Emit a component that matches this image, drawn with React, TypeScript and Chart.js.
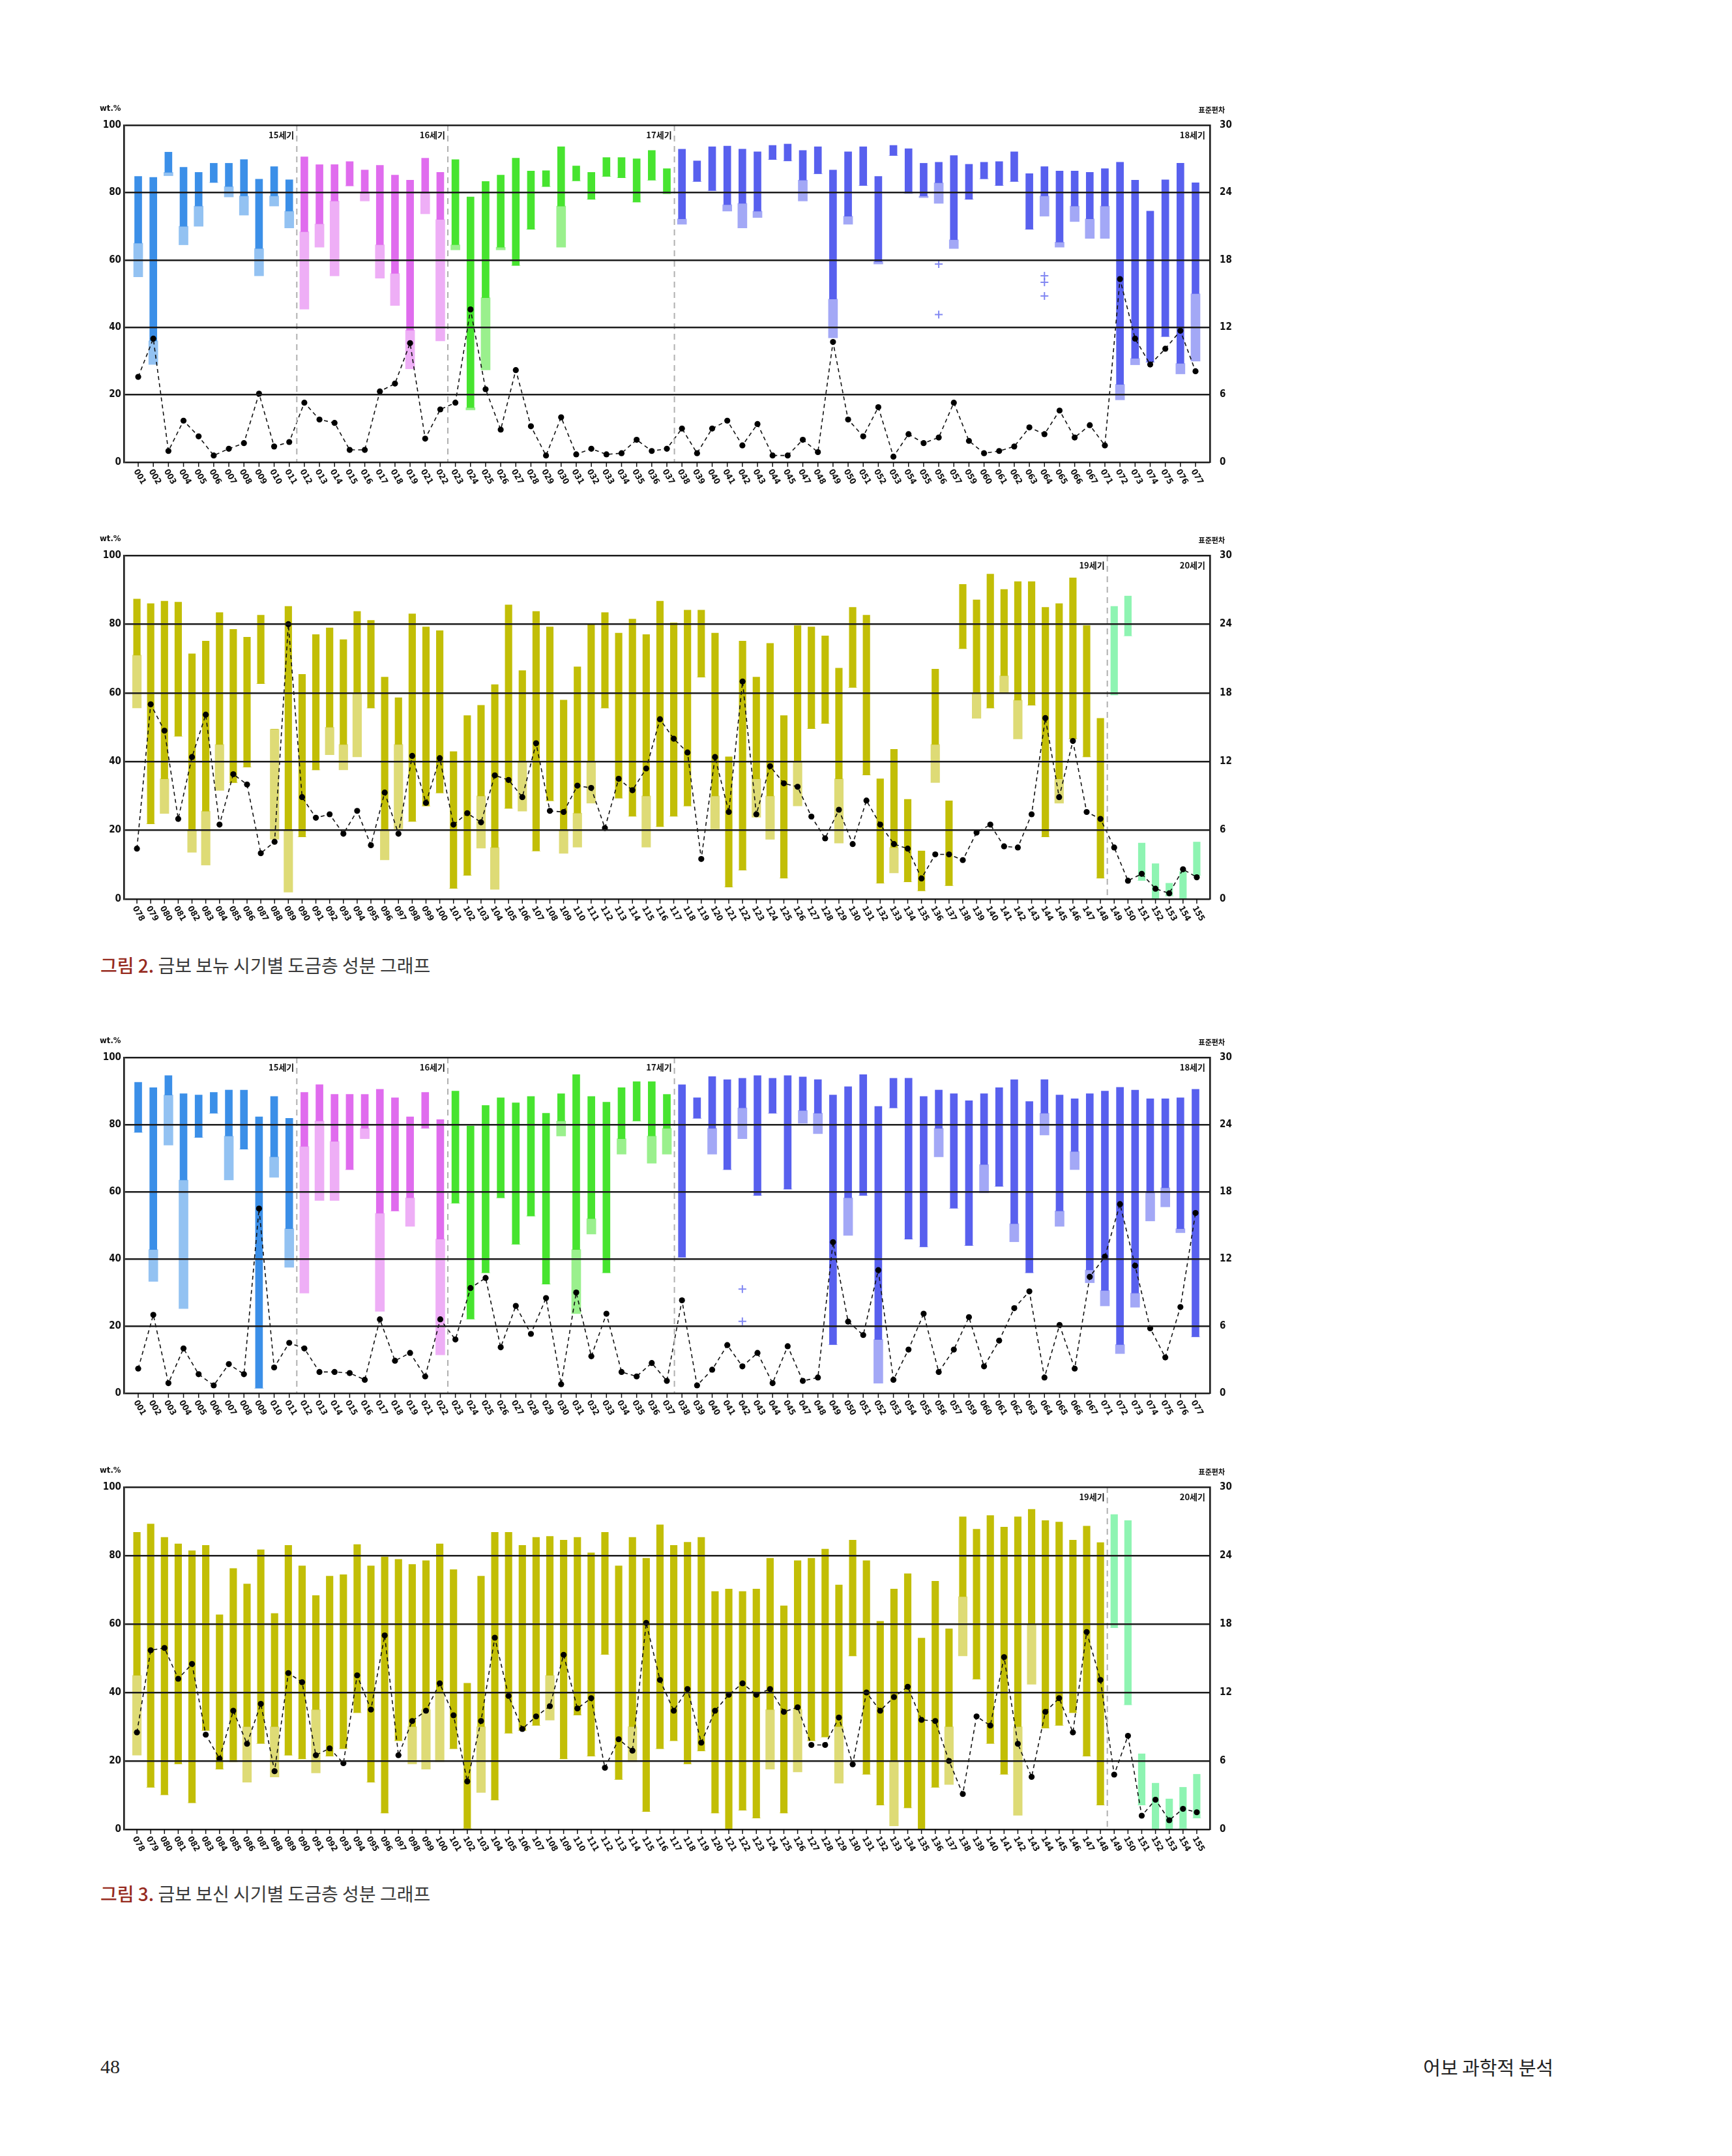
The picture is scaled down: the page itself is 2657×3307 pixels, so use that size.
import React, { useEffect, useRef } from 'react';
import { Chart, registerables } from 'chart.js';

Chart.register(...registerables);

const FONT = '"Liberation Sans Narrow", "DejaVu Sans Condensed", "Liberation Sans", "Noto Sans CJK KR", sans-serif';
const KFONT = '"Noto Sans CJK KR", "Noto Sans", sans-serif';

// ---------- tick labels ----------
const labelsA = ['001','002','003','004','005','006','007','008','009','010','011','012','013','014','015','016','017','018','019','021','022','023','024','025','026','027','028','029','030','031','032','033','034','035','036','037','038','039','040','041','042','043','044','045','047','048','049','050','051','052','053','054','055','056','057','059','060','061','062','063','064','065','066','067','071','072','073','074','075','076','077'];
const labelsB = ['078','079','080','081','082','083','084','085','086','087','088','089','090','091','092','093','094','095','096','097','098','099','100','101','102','103','104','105','106','107','108','109','110','111','112','113','114','115','116','117','118','119','120','121','122','123','124','125','126','127','128','129','130','131','132','133','134','135','136','137','138','139','140','141','142','143','144','145','146','147','148','149','150','151','152','153','154','155'];

// ---------- 그림 2 (상) : 001-077 ----------
const hi1 = [84.8,84.5,92,87.5,86,88.7,88.7,89.8,84,87.7,83.8, 90.6,88.3,88.3,89.2,86.7,88.1,85.2,83.7,90.2,86, 89.8,78.7,83.3,85.2,90.2,86.4,86.5,93.6,87.9,86,90.4,90.4,90,92.5,87.1, 92.9,89.4,93.6,93.8,92.9,92.1,94,94.4,92.5,93.6,86.7,92.1,93.6,84.8,94,93,88.7,89,91,88.4,89,89.2,92.1,85.6,87.7,86.4,86.4,86,87.1,89,83.7,74.5,83.8,88.7,82.9];
const lo1 = [65,36,86,70,76,83,81.8,79,63.4,79,74.5, 68.4,70.7,77.5,82,79.8,64.5,56,39.2,79.8,72, 64.5,16.2,48.8,63.8,58.4,69.1,81.8,76,83.5,78,84.8,84.4,77.2,83.7,79.7, 72.2,83.3,80.6,76.4,76.8,74.5,89.8,89.4,83.7,85.6,48.4,73,82.1,59.5,91,79.8,79,82.9,66,78,84.1,82.1,83.3,69.1,79,65.3,76,72.2,76,23.1,30.8,29.7,37.3,29.3,50];
const min1 = [55,29,85,64.5,70,83,78.7,73.3,55.3,76,69.5, 45.4,63.8,55.3,82,77.5,54.6,46.5,27.7,73.7,36, 63,15.5,27.4,63,58.4,69.1,81.8,63.8,83.5,78,84.8,84.4,77.2,83.7,79.7, 70.6,83.3,80.6,74.5,69.5,72.6,89.8,89.4,77.5,85.6,36.9,70.6,82.1,58.8,91,79.8,78.5,76.8,63.4,78,84.1,82.1,83.3,69.1,73,63.8,71.4,66.4,66.4,18.5,28.9,29.7,37.3,26.2,30];
const sd1 = [7.6,11.0,1.0,3.7,2.3,0.6,1.2,1.7,6.1,1.4,1.8, 5.3,3.8,3.5,1.1,1.1,6.3,7.0,10.6,2.1,4.7, 5.3,13.6,6.5,2.9,8.2,3.2,0.6,4.0,0.7,1.2,0.7,0.8,2.0,1.0,1.2, 3.0,0.8,3.0,3.7,1.5,3.4,0.6,0.6,2.0,0.9,10.7,3.8,2.3,4.9,0.5,2.5,1.7,2.2,5.3,1.9,0.8,1.0,1.4,3.1,2.5,4.6,2.2,3.3,1.5,16.3,11.0,8.7,10.1,11.7,8.1];
const outIdx1 = [53, 53, 60, 60, 60];
const outVal1 = [58.8, 43.8, 55.3, 53.4, 49.3];

// ---------- 그림 2 (하) : 078-155 ----------
const hi2 = [87.3,86,86.7,86.4,71.4,75.1,83.4,78.5,76.2,82.6, 49.4,85.2,65.4,77,78.9,75.5,83.7,81.1,64.6,58.6, 83,79.2,78.1,42.9,53.4,56.4,62.4,85.6,66.5,83.7, 79.2,57.9,67.6,80,83.4,77.4,81.5,77,86.7,80.4, 84.1,84.1,77.4,41.4,75.1,64.6,74.4,53.4,79.6,79.2, 76.6,67.2,84.9,82.6,35,43.6,29,14,66.9,28.6, 91.6,87.1,94.6,90.1,92.4,92.4,84.9,86,93.5,79.6, 52.6,85.2,88.2,16.3,10.3,4.6,8,16.6];
const lo2 = [71,21.9,35,47.4,20,25.6,45,33.9,38.4,62.7, 49.4,20,18.1,37.6,50,45,60.1,55.6,20,45, 22.6,27.1,30.9,3.1,6.9,30,15,26.4,40,14, 28.6,20,25,40,55.6,29.4,24.1,30,21.1,24.1, 27.1,64.6,30,3.5,8.4,35,30,6.1,40,49.6, 51.1,35,61.6,36.1,4.6,15,5,2.4,45,3.9, 72.9,60,55.6,65,57.9,56.4,18.1,35,46.6,41.4, 6.1,59.4,76.6,5.4,0.2,0.9,0,6.9];
const min2 = [55.6,21.9,24.9,47.4,13.6,9.9,31.6,33.9,38.4,62.7, 17.4,2,18.1,37.6,42,37.6,41.4,55.6,11.4,20.4, 22.6,27.1,30.9,3.1,6.9,14.8,2.8,26.4,25.6,14, 28.6,13.3,15.1,27.9,55.6,29.4,24.1,15.1,21.1,24.1, 27.1,64.6,20.4,3.5,8.4,23.8,17.4,6.1,27.1,49.6, 51.1,16.3,61.6,36.1,4.6,7.6,5,2.4,33.9,3.9, 72.9,52.6,55.6,60.1,46.6,56.4,18.1,27.9,46.6,41.4, 6.1,59.4,76.6,5.4,0.2,0.9,0,6.9];
const sd2 = [4.4,17.0,14.7,7.0,12.4,16.1,6.5,10.9,10.0,4.0, 5.0,24.0,8.9,7.1,7.4,5.7,7.7,4.7,9.3,5.7, 12.5,8.4,12.3,6.5,7.5,6.7,10.8,10.4,8.9,13.6, 7.7,7.6,9.9,9.7,6.2,10.5,9.5,11.4,15.7,14.0, 12.8,3.5,12.4,7.6,19.0,7.4,11.6,10.1,9.8,7.2, 5.3,7.8,4.8,8.6,6.5,4.8,4.4,1.8,3.9,3.9, 3.4,5.8,6.5,4.6,4.5,7.4,15.8,8.9,13.8,7.6, 7.0,4.5,1.6,2.2,0.9,0.5,2.6,1.9];
const outIdx2: number[] = [];
const outVal2: number[] = [];

// ---------- 그림 3 (상) : 001-077 ----------
const hi3 = [92.6,91,94.6,89.2,88.8,89.6,90.3,90.3,82.3,88.4,81.9, 89.6,91.9,89,89,89,90.5,88,82.3,89.6,81.5, 90,79.6,85.7,88,86.5,88.4,83.4,89.2,94.9,88.4,86.7,91,92.8,92.8,89, 91.9,88,94.3,93.4,93.8,94.6,93.8,94.6,94.2,93.4,88.8,91.3,94.9,85.4,93.8,93.8,88.4,90.3,89.2,87.1,89.2,91,93.4,86.9,93.4,88.8,87.7,89.2,90,91.1,90.3,87.7,87.7,88,90.5];
const lo3 = [77.7,42.8,88.8,63.5,76.2,83.4,76.6,72.7,1.5,70.4,49, 73.5,81.1,75,66.6,78.9,53.6,54.3,58.2,78.9,45.9, 56.6,22.1,35.9,58.2,44.4,52.8,32.5,81.1,42.8,52,35.9,75.8,81.1,76.6,78.9, 40.5,81.9,78.9,66.6,85,58.9,83.4,60.8,84.2,83.4,14.5,58.2,58.9,16,85,45.9,43.6,78.9,55.1,44,68.1,61.6,50.5,35.9,83.4,54.3,72,36.7,30.6,14.5,29.8,59.7,61.2,49,16.8];
const min3 = [77.7,33.3,73.9,25.2,76.2,83.4,63.5,72.7,1.5,64.3,37.5, 29.8,57.4,57.4,66.6,75.8,24.4,54.3,49.7,78.9,11.4, 56.6,22.1,35.9,58.2,44.4,52.8,32.5,76.6,23.7,47.4,35.9,71.2,81.1,68.5,71.2, 40.5,81.9,71.2,66.6,75.8,58.9,83.4,60.8,80.4,77.3,14.5,47,58.9,3,85,45.9,43.6,70.4,55.1,44,59.7,61.6,45.1,35.9,76.9,49.7,66.6,32.9,26,11.8,25.6,51.3,55.5,47.8,16.8];
const sd3 = [2.2,7.0,0.9,4.0,1.7,0.7,2.6,1.7,16.5,2.3,4.5, 4.0,1.9,1.9,1.8,1.2,6.6,2.9,3.6,1.5,6.6, 4.8,9.4,10.3,4.1,7.8,5.3,8.5,0.8,9.0,3.3,7.1,1.9,1.5,2.7,1.1, 8.3,0.7,2.1,4.3,2.4,3.6,0.9,4.2,1.1,1.4,13.5,6.4,5.2,11.0,1.2,3.9,7.1,1.9,3.9,6.8,2.4,4.7,7.6,9.1,1.4,6.1,2.2,10.4,12.2,16.9,11.4,5.8,3.2,7.7,16.1];
const outIdx3 = [40, 40];
const outVal3 = [31, 21.4];

// ---------- 그림 3 (하) : 078-155 ----------
const hi4 = [86.8,89.2,85.3,83.4,81.4,83,62.7,76.2,71.7,81.7, 63.1,83,77,68.3,74,74.4,83.2,77,79.6,78.9, 77.4,78.5,83.4,75.9,42.7,74,86.8,86.8,83,85.3, 85.6,84.5,85.3,80.8,86.8,77,85.3,79.2,89,83, 83.9,85.3,69.5,70.2,69.5,70.2,79.2,65.3,78.5,79.2, 81.9,71.4,84.5,78.5,60.8,70.2,74.7,55.9,72.5,58.6, 91.3,87.7,91.7,88.3,91.3,93.5,90.2,89.8,84.5,88.6, 83.8,92,90.2,22.1,13.5,8.9,12.3,16.1];
const lo4 = [45,12.3,10.1,19.1,7.8,28.9,17.6,19.8,30,25.1, 30,21.7,20.6,35,21.4,23.6,34.1,13.8,4.8,25.9, 30,35,40,23.6,0.3,30,8.6,28.1,28.9,30.4, 45,20.6,33.4,21.4,51.1,14.6,30,5.2,23.6,25.9, 19.1,22.9,4.8,0,5.6,3.3,35,4.8,35,25.9, 27,30,50.7,16.1,7.1,20,6.3,0,12.3,30, 68,43.9,25.1,16.1,30,60,29.6,30.4,34.1,21.4, 7.1,58.9,36.4,7.1,0,0,0.3,3.3];
const min4 = [21.7,12.3,10.1,19.1,7.8,28.9,17.6,19.8,13.8,25.1, 15.3,21.7,20.6,16.5,21.4,23.6,34.1,13.8,4.8,25.9, 19.1,17.6,19.8,23.6,0.3,10.8,8.6,28.1,28.9,30.4, 31.9,20.6,33.4,21.4,51.1,14.6,19.8,5.2,23.6,25.9, 19.1,22.9,4.8,0,5.6,3.3,17.6,4.8,16.8,25.9, 27,13.5,50.7,16.1,7.1,1,6.3,0,12.3,13.1, 50.7,43.9,25.1,16.1,4.1,42.4,29.6,30.4,34.1,21.4, 7.1,58.9,36.4,7.1,0,0,0.3,3.3];
const sd4 = [8.5,15.7,15.9,13.2,14.5,8.3,6.2,10.4,7.5,11.0, 5.1,13.7,12.9,6.5,7.1,5.8,13.5,10.5,17.0,6.5, 9.5,10.4,12.8,10.0,4.2,9.5,16.8,11.7,8.8,9.9, 10.8,15.3,10.6,11.5,5.4,7.9,6.9,18.1,13.1,10.4, 12.3,7.6,10.4,11.8,12.8,11.8,12.3,10.3,10.7,7.4, 7.4,9.8,5.7,12.0,10.4,11.6,12.5,9.6,9.5,6.0, 3.1,9.9,9.1,15.1,7.5,4.6,10.3,11.5,8.5,17.3, 13.1,4.8,8.2,1.2,2.6,0.8,1.8,1.5];
const outIdx4: number[] = [];
const outVal4: number[] = [];

// ---------- sections (century groups) ----------
type Section = { count: number; label: string; color: string };
const sectionsA: Section[] = [
  { count: 11, label: '15세기', color: '#3b8fe8' },
  { count: 10, label: '16세기', color: '#e06cee' },
  { count: 15, label: '17세기', color: '#47e42f' },
  { count: 35, label: '18세기', color: '#5860ee' },
];
const sectionsB: Section[] = [
  { count: 71, label: '19세기', color: '#c2be06' },
  { count: 7, label: '20세기', color: '#8ef4b2' },
];

function rgba(hex: string, a: number) {
  const h = hex.replace('#', '');
  const r = parseInt(h.slice(0, 2), 16);
  const g = parseInt(h.slice(2, 4), 16);
  const b = parseInt(h.slice(4, 6), 16);
  return `rgba(${r},${g},${b},${a})`;
}

type PanelProps = {
  labels: string[];
  hi: number[];
  lo: number[];
  mn: number[];
  sd: number[];
  outIdx: number[];
  outVal: number[];
  sections: Section[];
  top: number;
  bottom: number;
  barW: number;
};

const CANVAS_LEFT = 100;
const CANVAS_W = 1860;
const PAD_TOP = 45;
const PAD_BOTTOM = 55;

function Panel(props: PanelProps) {
  const ref = useRef<HTMLCanvasElement | null>(null);
  const h = props.bottom - props.top + PAD_TOP + PAD_BOTTOM;

  useEffect(() => {
    const { labels, hi, lo, mn, sd, outIdx, outVal, sections, barW } = props;
    const n = labels.length;
    const colors: string[] = [];
    sections.forEach((s) => {
      for (let k = 0; k < s.count; k++) colors.push(s.color);
    });

    const overlay = {
      id: 'overlay',
      afterDatasetsDraw(chart: any) {
        const { ctx, chartArea: a } = chart;
        const xs = chart.scales.x;
        ctx.save();
        ctx.strokeStyle = '#b0b0b0';
        ctx.lineWidth = 2;
        ctx.setLineDash([9, 7]);
        let acc = 0;
        sections.slice(0, -1).forEach((s) => {
          acc += s.count;
          const x = xs.getPixelForValue(acc - 0.5);
          ctx.beginPath();
          ctx.moveTo(x, a.top);
          ctx.lineTo(x, a.bottom);
          ctx.stroke();
        });
        ctx.restore();
      },
      afterDraw(chart: any) {
        const { ctx, chartArea: a } = chart;
        const xs = chart.scales.x;
        ctx.save();
        ctx.fillStyle = '#111';
        ctx.textBaseline = 'middle';
        ctx.font = `bold 13px ${FONT}`;
        ctx.textAlign = 'left';
        ctx.fillText('wt.%', a.left - 37, a.top - 25);
        ctx.font = `bold 11px ${KFONT}`;
        ctx.textAlign = 'right';
        ctx.fillText('표준편차', a.right + 23, a.top - 23);

        ctx.font = `bold 13px ${KFONT}`;
        let acc = 0;
        sections.forEach((s, k) => {
          acc += s.count;
          const x = k === sections.length - 1 ? a.right - 7 : xs.getPixelForValue(acc - 0.5) - 4;
          ctx.fillText(s.label, x, a.top + 15);
        });

        ctx.strokeStyle = '#111';
        ctx.lineWidth = 1.5;
        for (let i = 0; i < n; i++) {
          const px = xs.getPixelForValue(i);
          ctx.beginPath();
          ctx.moveTo(px, a.bottom);
          ctx.lineTo(px, a.bottom + 7);
          ctx.stroke();
        }

        ctx.font = `bold 13px ${FONT}`;
        ctx.textAlign = 'left';
        for (let i = 0; i < n; i++) {
          const px = xs.getPixelForValue(i);
          ctx.save();
          ctx.translate(px - 4, a.bottom + 12);
          ctx.rotate(Math.PI / 3);
          ctx.fillText(labels[i], 0, 0);
          ctx.restore();
        }
        ctx.restore();
      },
    };

    const tickFont = { family: FONT, size: 15, weight: 'bold' as const };

    const chart = new Chart(ref.current as HTMLCanvasElement, {
      type: 'bar',
      data: {
        datasets: [
          {
            type: 'line',
            data: sd.map((v, i) => ({ x: i, y: v })),
            yAxisID: 'y2',
            borderColor: '#111',
            borderWidth: 1.6,
            borderDash: [6, 5],
            pointRadius: 4.6,
            pointBackgroundColor: '#000',
            pointBorderColor: '#000',
            pointBorderWidth: 0,
            fill: false,
            tension: 0,
            order: 0,
          } as any,
          {
            type: 'line',
            data: outIdx.map((ix, k) => ({ x: ix, y: outVal[k] })),
            yAxisID: 'y',
            showLine: false,
            pointStyle: 'cross',
            pointRadius: 6,
            pointBorderWidth: 2,
            pointBorderColor: outIdx.map((ix) => rgba(colors[ix], 0.75)),
            order: 1,
          } as any,
          {
            type: 'bar',
            data: hi.map((v, i) => ({ x: i, y: [lo[i], v] })),
            yAxisID: 'y',
            backgroundColor: colors,
            barThickness: barW,
            grouped: false,
            order: 2,
          } as any,
          {
            type: 'bar',
            data: lo.map((v, i) => ({ x: i, y: [mn[i], v] })),
            yAxisID: 'y',
            backgroundColor: colors.map((c) => rgba(c, 0.55)),
            barThickness: barW + 3,
            grouped: false,
            order: 3,
          } as any,
        ],
      },
      options: {
        animation: false,
        responsive: false,
        devicePixelRatio: 1,
        events: [],
        layout: { padding: { left: 30, right: 44, top: PAD_TOP, bottom: PAD_BOTTOM } },
        plugins: { legend: { display: false }, tooltip: { enabled: false } },
        scales: {
          x: {
            type: 'linear',
            display: true,
            offset: false,
            min: -0.95,
            max: n - 0.05,
            ticks: { display: false },
            grid: { display: false, drawTicks: false },
            border: { display: false },
            afterFit: (s: any) => {
              s.height = 0;
            },
          },
          y: {
            position: 'left',
            min: 0,
            max: 100,
            ticks: { stepSize: 20, font: tickFont, color: '#111', padding: 4 },
            grid: { color: '#1c1c1c', lineWidth: 2.6, drawTicks: false, z: 1 } as any,
            border: { display: true, color: '#1c1c1c', width: 2.6, z: 1 } as any,
            afterFit: (s: any) => {
              s.width = 60;
            },
          },
          y2: {
            position: 'right',
            min: 0,
            max: 30,
            ticks: { stepSize: 6, font: tickFont, color: '#111', padding: 7 },
            grid: { display: false },
            border: { display: true, color: '#1c1c1c', width: 2.6, z: 1 } as any,
            afterFit: (s: any) => {
              s.width = 60;
            },
          },
        },
      } as any,
      plugins: [overlay],
    });
    return () => chart.destroy();
  }, []);

  return (
    <canvas
      ref={ref}
      width={CANVAS_W}
      height={h}
      style={{ position: 'absolute', left: CANVAS_LEFT, top: props.top - PAD_TOP, width: CANVAS_W, height: h }}
    />
  );
}

function Caption(props: { y: number; num: string; text: string }) {
  return (
    <div
      style={{
        position: 'absolute',
        left: 154,
        top: props.y - 20,
        lineHeight: '40px',
        fontFamily: KFONT,
        fontSize: 28,
        color: '#3a3a3a',
        whiteSpace: 'nowrap',
      }}
    >
      <span style={{ color: '#962b1f', fontWeight: 500 }}>{props.num}</span> {props.text}
    </div>
  );
}

export default function App() {
  return (
    <div
      style={{
        position: 'absolute',
        left: 0,
        top: 0,
        width: 2657,
        height: 3307,
        background: '#fff',
        overflow: 'hidden',
      }}
    >
      <Panel labels={labelsA} hi={hi1} lo={lo1} mn={min1} sd={sd1} outIdx={outIdx1} outVal={outVal1} sections={sectionsA} top={192} bottom={709} barW={11} />
      <Panel labels={labelsB} hi={hi2} lo={lo2} mn={min2} sd={sd2} outIdx={outIdx2} outVal={outVal2} sections={sectionsB} top={852} bottom={1379} barW={10.5} />
      <Caption y={1480} num="그림 2." text="금보 보뉴 시기별 도금층 성분 그래프" />
      <Panel labels={labelsA} hi={hi3} lo={lo3} mn={min3} sd={sd3} outIdx={outIdx3} outVal={outVal3} sections={sectionsA} top={1622} bottom={2137} barW={11} />
      <Panel labels={labelsB} hi={hi4} lo={lo4} mn={min4} sd={sd4} outIdx={outIdx4} outVal={outVal4} sections={sectionsB} top={2281} bottom={2806} barW={10.5} />
      <Caption y={2904} num="그림 3." text="금보 보신 시기별 도금층 성분 그래프" />
      <div
        style={{
          position: 'absolute',
          left: 154,
          top: 3150,
          lineHeight: '40px',
          fontFamily: '"Liberation Serif", serif',
          fontSize: 30,
          color: '#222',
        }}
      >
        48
      </div>
      <div
        style={{
          position: 'absolute',
          right: 2657 - 2383,
          top: 3150,
          lineHeight: '40px',
          fontFamily: KFONT,
          fontSize: 29,
          color: '#222',
          whiteSpace: 'nowrap',
        }}
      >
        어보 과학적 분석
      </div>
    </div>
  );
}
